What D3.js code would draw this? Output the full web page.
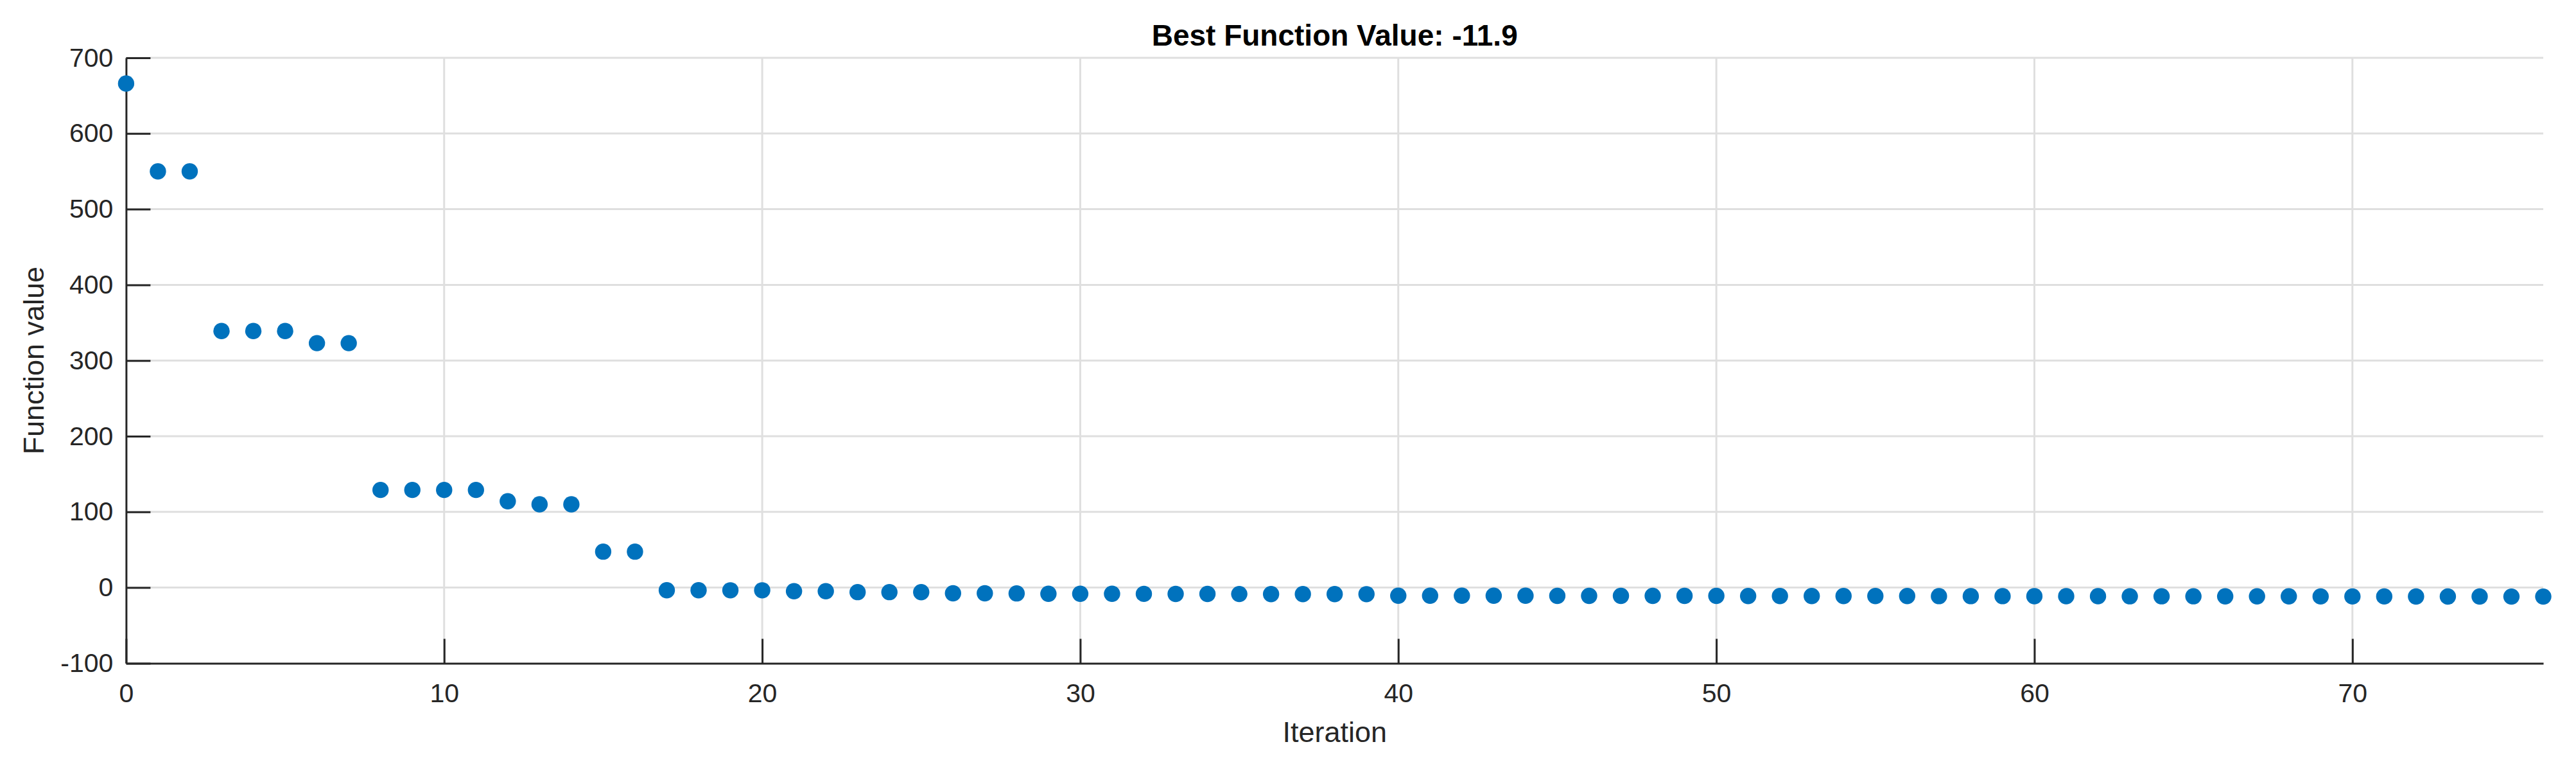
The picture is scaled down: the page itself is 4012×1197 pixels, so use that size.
<!DOCTYPE html>
<html>
<head>
<meta charset="utf-8">
<script src="https://cdn.jsdelivr.net/npm/d3@7"></script>
<style>
	body { margin: 0; background: #fff; }
	text { font-family: "Liberation Sans", Arial, Helvetica, sans-serif; }
	.tickText { font-size: 41px; fill: #262626; }
	.axisLabel { font-size: 45px; fill: #262626; }
	.titleText { font-size: 46px; font-weight: bold; fill: #000; }
</style>
</head>
<body>
<svg id="chart"></svg>
<script>
// values (best function value per iteration)
var fValues = [
	666, 550, 550, 339, 339, 339, 323, 323,
	129, 129, 129, 129, 114, 110, 110, 47.5, 47.5,
	-3.5, -3.5, -3.6, -3.6, -4.8, -4.8, -6.0, -6.0, -6.1, -7.6, -7.6, -7.7,
	-8.2, -8.2, -8.2, -8.3, -8.4, -8.4, -8.5, -8.6, -8.6, -8.6, -8.7,
	-10.7, -10.7, -10.8, -10.8, -10.8, -10.9, -10.9, -10.9, -11.0, -11.0,
	-11.0, -11.1, -11.1, -11.1, -11.2, -11.2, -11.2, -11.3, -11.3, -11.3,
	-11.4, -11.4, -11.4, -11.5, -11.5, -11.5, -11.6, -11.6, -11.6, -11.7,
	-11.7, -11.7, -11.8, -11.8, -11.8, -11.9, -11.9
];
var xTicks = [0, 10, 20, 30, 40, 50, 60, 70];
var yTicks = [-100, 0, 100, 200, 300, 400, 500, 600, 700];
var xDomain = [0, 76];
var yDomain = [-100, 700];
var titleText = 'Best Function Value: -11.9';
var xLabelText = 'Iteration';
var yLabelText = 'Function value';

var W = 4012, H = 1197;
var plot = {left: 196.4, right: 3961, top: 90, bottom: 1032.4};
var axisColor = '#262626', gridColor = '#dfdfdf', dotColor = '#0072BD';

var svg = d3.select('#chart').attr('width', W).attr('height', H);

var x = d3.scaleLinear().domain(xDomain).range([plot.left, plot.right]);
var y = d3.scaleLinear().domain(yDomain).range([plot.bottom, plot.top]);

// plain hyphen minus like the original, not the unicode one d3.format gives
plainNum = function(d){ return String(d); };

addGrid = function(){
	var g = svg.append('g').attr('id', 'gridG');
	g.selectAll('line.vGrid')
		.data(xTicks.filter(function(d){ return d != xDomain[0]; }))
		.enter()
		.append('line')
		.attr('class', 'vGrid')
		.attr('x1', function(d){ return x(d); })
		.attr('x2', function(d){ return x(d); })
		.attr('y1', plot.top)
		.attr('y2', plot.bottom)
		.attr('stroke', gridColor)
		.attr('stroke-width', 3);
	g.selectAll('line.hGrid')
		.data(yTicks.filter(function(d){ return d != yDomain[0]; }))
		.enter()
		.append('line')
		.attr('class', 'hGrid')
		.attr('x1', plot.left)
		.attr('x2', plot.right)
		.attr('y1', function(d){ return y(d); })
		.attr('y2', function(d){ return y(d); })
		.attr('stroke', gridColor)
		.attr('stroke-width', 3);
};

addAxes = function(){
	var xAxis = d3.axisBottom(x)
		.tickValues(xTicks)
		.tickSizeInner(-38)
		.tickSizeOuter(0)
		.tickPadding(31)
		.tickFormat(plainNum);
	var yAxis = d3.axisLeft(y)
		.tickValues(yTicks)
		.tickSizeInner(-38)
		.tickSizeOuter(0)
		.tickPadding(20)
		.tickFormat(plainNum);
	var gx = svg.append('g')
		.attr('id', 'xAxisG')
		.attr('transform', 'translate(0,' + plot.bottom + ')')
		.call(xAxis);
	var gy = svg.append('g')
		.attr('id', 'yAxisG')
		.attr('transform', 'translate(' + plot.left + ',0)')
		.call(yAxis);
	[gx, gy].forEach(function(g){
		g.attr('font-size', null).attr('font-family', null);
		g.select('.domain').attr('stroke', axisColor).attr('stroke-width', 3);
		g.selectAll('.tick line').attr('stroke', axisColor).attr('stroke-width', 3);
		g.selectAll('.tick text')
			.attr('class', 'tickText')
			.attr('fill', null);
	});
};

addDots = function(){
	svg.append('g')
		.attr('id', 'dotsG')
		.selectAll('circle')
		.data(fValues)
		.enter()
		.append('circle')
		.attr('cx', function(d, i){ return x(i); })
		.attr('cy', function(d){ return y(d); })
		.attr('r', 12.7)
		.attr('fill', dotColor);
};

addLabels = function(){
	var midX = (plot.left + plot.right) / 2;
	var midY = (plot.top + plot.bottom) / 2;
	svg.append('text')
		.attr('class', 'titleText')
		.attr('x', midX)
		.attr('y', 70.7)
		.attr('text-anchor', 'middle')
		.text(titleText);
	svg.append('text')
		.attr('class', 'axisLabel')
		.attr('x', midX)
		.attr('y', 1155)
		.attr('text-anchor', 'middle')
		.text(xLabelText);
	svg.append('text')
		.attr('class', 'axisLabel')
		.attr('transform', 'translate(68,' + midY + ') rotate(-90)')
		.attr('text-anchor', 'middle')
		.text(yLabelText);
};

addGrid();
addAxes();
addDots();
addLabels();
</script>
</body>
</html>
